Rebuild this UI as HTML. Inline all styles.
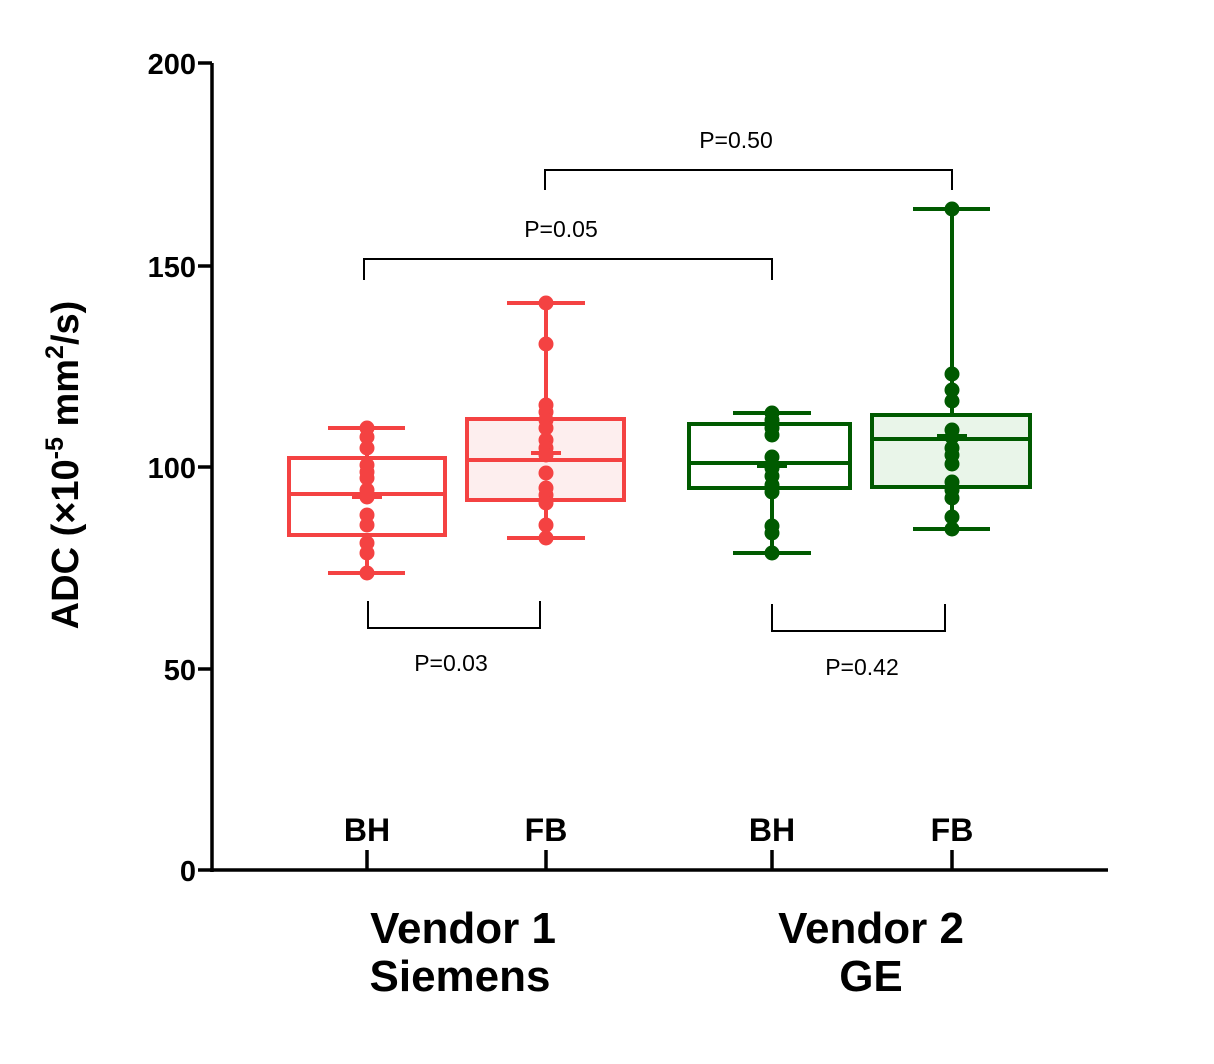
<!DOCTYPE html><html><head><style>body{margin:0;background:#fff}</style></head><body>
<svg width="1214" height="1059" xmlns="http://www.w3.org/2000/svg" font-family="Liberation Sans, Arial, sans-serif">
<g stroke="#000" stroke-width="3.5" fill="none">
<line x1="212" y1="63" x2="212" y2="872"/><line x1="210" y1="870" x2="1108" y2="870"/>
<line x1="198" y1="63" x2="212" y2="63"/><line x1="198" y1="266" x2="212" y2="266"/><line x1="198" y1="467" x2="212" y2="467"/><line x1="198" y1="669" x2="212" y2="669"/><line x1="198" y1="870" x2="212" y2="870"/>
<line x1="367" y1="850" x2="367" y2="870"/><line x1="546" y1="850" x2="546" y2="870"/><line x1="772" y1="850" x2="772" y2="870"/><line x1="952" y1="850" x2="952" y2="870"/>
</g>
<g font-weight="bold" font-size="29" text-anchor="end"><text x="196" y="74">200</text><text x="196" y="277">150</text><text x="196" y="478">100</text><text x="196" y="680">50</text><text x="196" y="881">0</text></g>
<g font-weight="bold" font-size="32" text-anchor="middle"><text x="367" y="841">BH</text><text x="546" y="841">FB</text><text x="772" y="841">BH</text><text x="952" y="841">FB</text></g>
<g font-weight="bold" font-size="44" text-anchor="middle"><text x="463" y="943">Vendor 1</text><text x="460" y="991">Siemens</text><text x="871" y="943">Vendor 2</text><text x="871" y="991">GE</text></g>
<text transform="translate(78,465) rotate(-90)" font-weight="bold" font-size="38" text-anchor="middle">ADC (×10<tspan dy="-15" font-size="25">-5</tspan><tspan dy="15"> mm</tspan><tspan dy="-15" font-size="25">2</tspan><tspan dy="15">/s)</tspan></text>
<g stroke="#000" stroke-width="2" fill="none">
<polyline points="364,280 364,259 772,259 772,280"/><polyline points="545,190 545,170 952,170 952,190"/>
<polyline points="368,601 368,628 540,628 540,601"/><polyline points="772,604 772,631 945,631 945,604"/>
</g>
<g font-size="23" text-anchor="middle"><text x="561" y="237">P=0.05</text><text x="736" y="148">P=0.50</text><text x="451" y="671">P=0.03</text><text x="862" y="675">P=0.42</text></g>
<g stroke="#f44242" stroke-width="4" fill="#f44242">
<line x1="367" y1="428" x2="367" y2="573"/><line x1="328" y1="428" x2="405" y2="428"/><line x1="328" y1="573" x2="405" y2="573"/>
<rect x="289" y="458" width="156" height="77" fill="#fff"/><line x1="289" y1="494" x2="445" y2="494"/><line x1="352" y1="497" x2="382" y2="497"/>
<g stroke="none"><circle cx="367" cy="428" r="7.5"/><circle cx="367" cy="437" r="7.5"/><circle cx="367" cy="448" r="7.5"/><circle cx="367" cy="465" r="7.5"/><circle cx="367" cy="472" r="7.5"/><circle cx="367" cy="478" r="7.5"/><circle cx="367" cy="490" r="7.5"/><circle cx="367" cy="497" r="7.5"/><circle cx="367" cy="515" r="7.5"/><circle cx="367" cy="525" r="7.5"/><circle cx="367" cy="543" r="7.5"/><circle cx="367" cy="553" r="7.5"/><circle cx="367" cy="573" r="7.5"/></g>
</g>
<g stroke="#f44242" stroke-width="4" fill="#f44242">
<line x1="546" y1="303" x2="546" y2="538"/><line x1="507" y1="303" x2="585" y2="303"/><line x1="507" y1="538" x2="585" y2="538"/>
<rect x="467" y="419" width="157" height="81" fill="#fdeeee"/><line x1="467" y1="460" x2="624" y2="460"/><line x1="531" y1="453" x2="561" y2="453"/>
<g stroke="none"><circle cx="546" cy="303" r="7.5"/><circle cx="546" cy="344" r="7.5"/><circle cx="546" cy="405" r="7.5"/><circle cx="546" cy="412" r="7.5"/><circle cx="546" cy="420" r="7.5"/><circle cx="546" cy="428" r="7.5"/><circle cx="546" cy="440" r="7.5"/><circle cx="546" cy="448" r="7.5"/><circle cx="546" cy="455" r="7.5"/><circle cx="546" cy="473" r="7.5"/><circle cx="546" cy="488" r="7.5"/><circle cx="546" cy="495" r="7.5"/><circle cx="546" cy="503" r="7.5"/><circle cx="546" cy="525" r="7.5"/><circle cx="546" cy="538" r="7.5"/></g>
</g>
<g stroke="#005a00" stroke-width="4" fill="#005a00">
<line x1="772" y1="413" x2="772" y2="553"/><line x1="733" y1="413" x2="811" y2="413"/><line x1="733" y1="553" x2="811" y2="553"/>
<rect x="689" y="424" width="161" height="64" fill="#fff"/><line x1="689" y1="463" x2="850" y2="463"/><line x1="757" y1="466" x2="787" y2="466"/>
<g stroke="none"><circle cx="772" cy="413" r="7.5"/><circle cx="772" cy="420" r="7.5"/><circle cx="772" cy="428" r="7.5"/><circle cx="772" cy="435" r="7.5"/><circle cx="772" cy="457" r="7.5"/><circle cx="772" cy="468" r="7.5"/><circle cx="772" cy="476" r="7.5"/><circle cx="772" cy="485" r="7.5"/><circle cx="772" cy="492" r="7.5"/><circle cx="772" cy="526" r="7.5"/><circle cx="772" cy="533" r="7.5"/><circle cx="772" cy="553" r="7.5"/></g>
</g>
<g stroke="#005a00" stroke-width="4" fill="#005a00">
<line x1="952" y1="209" x2="952" y2="529"/><line x1="913" y1="209" x2="990" y2="209"/><line x1="913" y1="529" x2="990" y2="529"/>
<rect x="872" y="415" width="158" height="72" fill="#e9f5e9"/><line x1="872" y1="439" x2="1030" y2="439"/><line x1="937" y1="436" x2="967" y2="436"/>
<g stroke="none"><circle cx="952" cy="209" r="7.5"/><circle cx="952" cy="374" r="7.5"/><circle cx="952" cy="390" r="7.5"/><circle cx="952" cy="401" r="7.5"/><circle cx="952" cy="430" r="7.5"/><circle cx="952" cy="437" r="7.5"/><circle cx="952" cy="448" r="7.5"/><circle cx="952" cy="455" r="7.5"/><circle cx="952" cy="464" r="7.5"/><circle cx="952" cy="482" r="7.5"/><circle cx="952" cy="490" r="7.5"/><circle cx="952" cy="498" r="7.5"/><circle cx="952" cy="517" r="7.5"/><circle cx="952" cy="529" r="7.5"/></g>
</g>
</svg></body></html>
